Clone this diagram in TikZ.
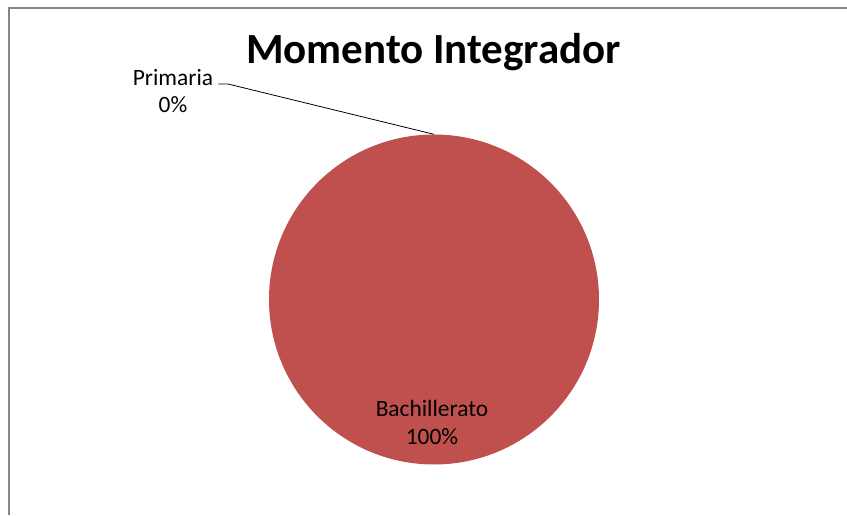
\documentclass[tikz,border=0pt]{standalone}
\usepackage{fontspec}
\setmainfont{Carlito}
\usepackage{tikz}
\definecolor{piered}{HTML}{C0504D}
\definecolor{framegray}{HTML}{868686}
\usetikzlibrary{positioning, calc}
\tikzset{lbl/.style={font=\fontsize{23.4}{27}\selectfont,inner sep=0pt,anchor=base}}
\tikzset{slice/.style={circle,fill=piered,minimum size=330pt,inner sep=0pt}}

\begin{document}
\begin{tikzpicture}[x=1pt,y=1pt]

% Define canvas
\useasboundingbox (0,0) rectangle (847,515);
\fill[white] (0,0) rectangle (847,515);
\draw[framegray,line width=2.5pt] (9,0) -- (9,507) -- (847,507);

% Define title
\node[font=\fontsize{43}{48}\selectfont\bfseries,inner sep=0pt,anchor=base] (title) at (433.5,451) {Momento Integrador};

% Define pie
\node[slice] (bach) at (434,215.5) {};

% Define labels
\node[lbl] (prim) at (173,429) {Primaria};
\node[lbl] (primval) at (173,402) {0\%};
\node[lbl] (bachname) at (432,99) {Bachillerato};
\node[lbl] (bachval) at (432,71) {100\%};

% Define leader
\coordinate (elbow) at (228,431);
\draw[black,line width=0.8pt] ([xshift=5pt,yshift=2pt]prim.base east) -- (elbow) -- (bach.north);

\end{tikzpicture}
\end{document}
